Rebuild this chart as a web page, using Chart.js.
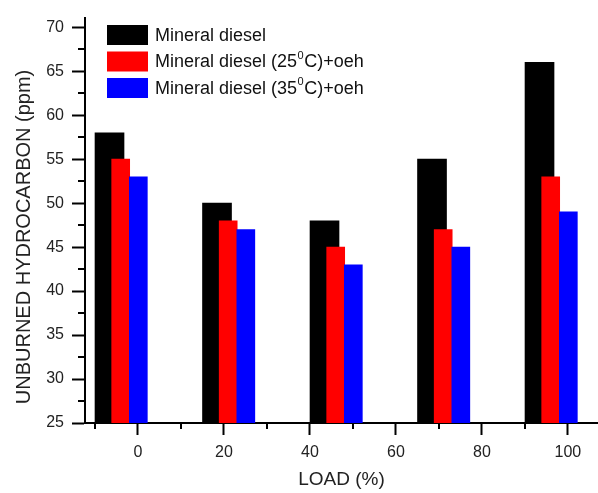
<!DOCTYPE html>
<html>
<head>
<meta charset="utf-8">
<script src="https://cdn.jsdelivr.net/npm/chart.js@4.4.1/dist/chart.umd.min.js"></script>
<style>
  html, body { margin: 0; padding: 0; background: #fff; }
</style>
</head>
<body>
<canvas id="hcChart" width="598" height="493"></canvas>
<script>
// data
const LOADS = [0, 25, 50, 75, 100];
const HC_MINERAL = [58, 50, 48, 55, 66];
const HC_25C_OEH = [55, 48, 45, 47, 53];
const HC_35C_OEH = [53, 47, 43, 45, 49];
const SERIES_LABELS = ['Mineral diesel', 'Mineral diesel (25⁰C)+oeh', 'Mineral diesel (35⁰C)+oeh'];

const X_TICKS = [0, 20, 40, 60, 80, 100];
const X_MINOR = [-10, 10, 30, 50, 70, 90];
const Y_TICKS = [25, 30, 35, 40, 45, 50, 55, 60, 65, 70];
const Y_MINOR = [27.5, 32.5, 37.5, 42.5, 47.5, 52.5, 57.5, 62.5, 67.5];

const FONT = "'Liberation Sans', Arial, sans-serif";

// bars of each series sit a little left of the load value, like the original plot
function points(values, shift) {
    return LOADS.map((load, i) => ({ x: load + shift, y: values[i] }));
}

const minorTicks = {
    id: 'minorTicks',
    afterDraw(chart, args, opts) {
        const { ctx, chartArea } = chart;
        const x = chart.scales.x, y = chart.scales.y;
        ctx.save();
        ctx.strokeStyle = '#000';
        ctx.lineWidth = 2;
        ctx.beginPath();
        X_MINOR.forEach(v => {
            const px = Math.round(x.getPixelForValue(v));
            ctx.moveTo(px, chartArea.bottom);
            ctx.lineTo(px, chartArea.bottom + opts.xLength);
        });
        Y_MINOR.forEach(v => {
            const py = Math.round(y.getPixelForValue(v));
            ctx.moveTo(chartArea.left, py);
            ctx.lineTo(chartArea.left - opts.yLength, py);
        });
        ctx.stroke();
        ctx.restore();
    }
};

// legend drawn inside the plot, with the raised 0 of the degree sign
const boxLegend = {
    id: 'boxLegend',
    afterDraw(chart, args, o) {
        const ctx = chart.ctx;
        ctx.save();
        chart.data.datasets.forEach((ds, i) => {
            const top = o.top + i * o.rowHeight;
            ctx.fillStyle = ds.backgroundColor;
            ctx.fillRect(o.left, top, o.boxWidth, o.boxHeight);
            let tx = o.left + o.boxWidth + o.gap;
            const ty = top + o.boxHeight / 2 + 1;
            ctx.fillStyle = o.color;
            ctx.textBaseline = 'middle';
            const parts = ds.label.split('⁰');
            parts.forEach((part, k) => {
                ctx.font = o.size + 'px ' + FONT;
                ctx.fillText(part, tx, ty);
                tx += ctx.measureText(part).width;
                if (k < parts.length - 1) {
                    ctx.font = o.supSize + 'px ' + FONT;
                    ctx.fillText('0', tx + 0.5, ty - o.size * 0.38);
                    tx += ctx.measureText('0').width + 1;
                }
            });
        });
        ctx.restore();
    }
};

const dataHC = {
    datasets: [
        {
            label: SERIES_LABELS[0],
            data: points(HC_MINERAL, -6.6),
            backgroundColor: '#000000',
            barThickness: 29,
            order: 2
        },
        {
            label: SERIES_LABELS[1],
            data: points(HC_25C_OEH, -4),
            backgroundColor: '#ff0000',
            barThickness: 18,
            order: 1
        },
        {
            label: SERIES_LABELS[2],
            data: points(HC_35C_OEH, 0.1),
            backgroundColor: '#0000ff',
            barThickness: 18,
            order: 0
        }
    ]
};

const configHC = {
    type: 'bar',
    data: dataHC,
    options: {
        responsive: false,
        animation: false,
        grouped: false,
        layout: { padding: { top: 17, left: 0, right: 0, bottom: 0 } },
        plugins: {
            legend: { display: false },
            tooltip: { enabled: false },
            minorTicks: { xLength: 6, yLength: 7 },
            boxLegend: {
                left: 107, top: 25, boxWidth: 41, boxHeight: 20, rowHeight: 26.5,
                gap: 7, size: 18, supSize: 11, color: '#111'
            }
        },
        scales: {
            x: {
                type: 'linear',
                position: 'bottom',
                offset: false,
                min: -12.3,
                max: 107,
                afterFit: s => { s.height = 70; },
                afterBuildTicks: s => { s.ticks = X_TICKS.map(v => ({ value: v })); },
                grid: { display: true, offset: false, drawOnChartArea: false, drawTicks: true, tickLength: 12, tickWidth: 2, tickColor: '#000' },
                border: { display: true, color: '#000', width: 2 },
                ticks: { font: { size: 16, family: FONT }, color: '#222', padding: 8, maxRotation: 0, autoSkip: false },
                title: {
                    display: true,
                    text: 'LOAD (%)',
                    color: '#222',
                    font: { size: 19, family: FONT },
                    padding: { top: 0, bottom: 2 }
                }
            },
            y: {
                type: 'linear',
                min: 25,
                max: 71.1,
                afterFit: s => { s.width = 85; },
                afterBuildTicks: s => { s.ticks = Y_TICKS.map(v => ({ value: v })); },
                grid: { display: true, drawOnChartArea: false, drawTicks: true, tickLength: 13, tickWidth: 2, tickColor: '#000' },
                border: { display: true, color: '#000', width: 2 },
                ticks: { font: { size: 16, family: FONT }, color: '#222', padding: 8 },
                title: {
                    display: true,
                    text: 'UNBURNED HYDROCARBON (ppm)\u00a0\u00a0\u00a0\u00a0\u00a0\u00a0',
                    color: '#222',
                    font: { size: 20, family: FONT },
                    padding: { top: 12, bottom: 0 }
                }
            }
        }
    },
    plugins: [minorTicks, boxLegend]
};

var hcChart = new Chart(document.getElementById('hcChart'), configHC);
</script>
</body>
</html>
